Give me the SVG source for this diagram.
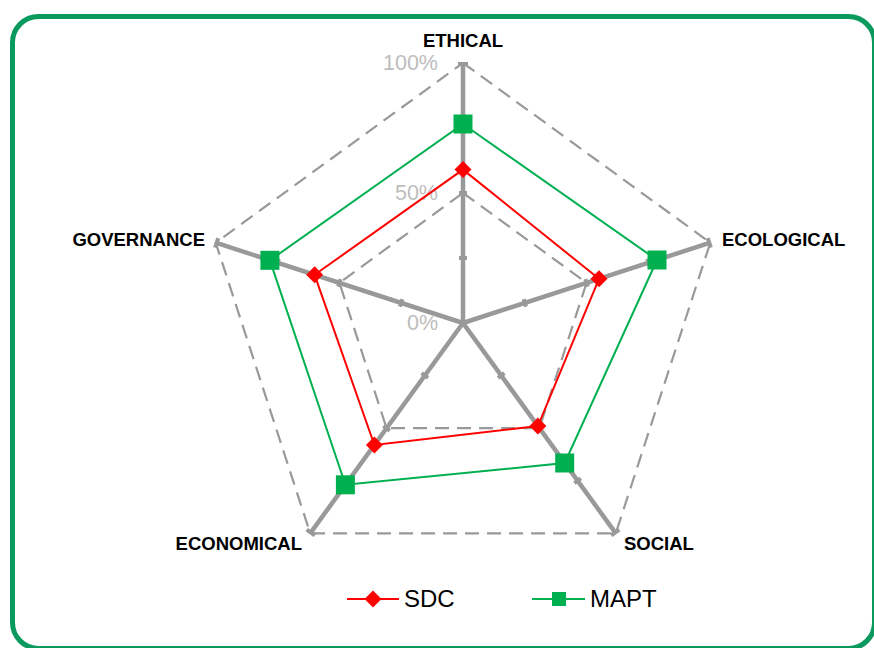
<svg xmlns="http://www.w3.org/2000/svg" width="874" height="648" viewBox="0 0 874 648">
  <style>
    .frame { fill: #ffffff; stroke: #0a9a5e; stroke-width: 5; }
    .grid { fill: none; stroke: #999999; stroke-width: 2.2; stroke-dasharray: 14 8; }
    .axis { stroke: #999999; stroke-width: 4.5; stroke-linecap: butt; }
    .tick { stroke: #999999; stroke-width: 4; }
    .pct { font-family: "Liberation Sans", Arial, sans-serif; font-size: 21.5px; fill: #bdbdbd; text-anchor: end; }
    .cat { font-family: "Liberation Sans", Arial, sans-serif; font-size: 18.5px; font-weight: bold; fill: #000000; }
    .leg { font-family: "Liberation Sans", Arial, sans-serif; font-size: 24px; fill: #000000; }
    .sdc { fill: none; stroke: #ff0000; stroke-width: 2; }
    .mapt { fill: none; stroke: #00b050; stroke-width: 2; }
  </style>
  <defs>
    <g id="axisShape">
      <line class="axis" x1="0" y1="0" x2="260" y2="0"/>
      <line class="tick" x1="65" y1="-4" x2="65" y2="4"/>
      <line class="tick" x1="130" y1="-4" x2="130" y2="4"/>
      <line class="tick" x1="195" y1="-4" x2="195" y2="4"/>
      <line class="tick" x1="259" y1="-5" x2="259" y2="5"/>
    </g>
    <rect id="diamond" x="-6" y="-6" width="12" height="12" fill="#ff0000" transform="rotate(45)"/>
    <rect id="square" x="-9.5" y="-9.5" width="19" height="19" fill="#00b050"/>
  </defs>

  <rect class="frame" x="12.5" y="16.5" width="862" height="632" rx="26" ry="26"/>

  <g id="grid">
    <polygon class="grid" points="463,63 710.3,242.7 615.8,533.3 310.2,533.3 215.7,242.7"/>
    <polygon class="grid" points="463,193 586.6,282.8 539.4,428.2 386.6,428.2 339.4,282.8"/>
  </g>

  <g id="axes">
    <use href="#axisShape" transform="translate(463,323) rotate(-90)"/>
    <use href="#axisShape" transform="translate(463,323) rotate(-18)"/>
    <use href="#axisShape" transform="translate(463,323) rotate(54)"/>
    <use href="#axisShape" transform="translate(463,323) rotate(126)"/>
    <use href="#axisShape" transform="translate(463,323) rotate(198)"/>
  </g>

  <g id="scale-labels">
    <text class="pct" x="438" y="70">100%</text>
    <text class="pct" x="438" y="200">50%</text>
    <text class="pct" x="438" y="330">0%</text>
  </g>

  <g id="node-ethical"><text class="cat" x="463" y="47" text-anchor="middle">ETHICAL</text></g>
  <g id="node-ecological"><text class="cat" x="722" y="246">ECOLOGICAL</text></g>
  <g id="node-social"><text class="cat" x="624" y="550">SOCIAL</text></g>
  <g id="node-economical"><text class="cat" x="302" y="550" text-anchor="end">ECONOMICAL</text></g>
  <g id="node-governance"><text class="cat" x="205" y="246" text-anchor="end">GOVERNANCE</text></g>

  <g id="connectors">
    <polygon class="mapt" points="463,124 657,260 564.7,463 345.4,484.8 269.9,260.3"/>
    <polygon class="sdc" points="463,169.6 599,278.8 537.9,426.1 374.4,445 314.6,274.8"/>
  </g>

  <g id="series-mapt">
    <use href="#square" x="463" y="124"/>
    <use href="#square" x="657" y="260"/>
    <use href="#square" x="564.7" y="463"/>
    <use href="#square" x="345.4" y="484.8"/>
    <use href="#square" x="269.9" y="260.3"/>
  </g>
  <g id="series-sdc">
    <g transform="translate(463,169.6)"><use href="#diamond"/></g>
    <g transform="translate(599,278.8)"><use href="#diamond"/></g>
    <g transform="translate(537.9,426.1)"><use href="#diamond"/></g>
    <g transform="translate(374.4,445)"><use href="#diamond"/></g>
    <g transform="translate(314.6,274.8)"><use href="#diamond"/></g>
  </g>

  <g id="legend">
    <g id="legend-sdc">
      <line class="sdc" x1="347" y1="599" x2="399" y2="599"/>
      <g transform="translate(373,599)"><use href="#diamond"/></g>
      <text class="leg" x="404" y="607">SDC</text>
    </g>
    <g id="legend-mapt">
      <line class="mapt" x1="532" y1="599" x2="585" y2="599"/>
      <rect x="552" y="592" width="14" height="14" fill="#00b050"/>
      <text class="leg" x="590" y="607">MAPT</text>
    </g>
  </g>
</svg>
